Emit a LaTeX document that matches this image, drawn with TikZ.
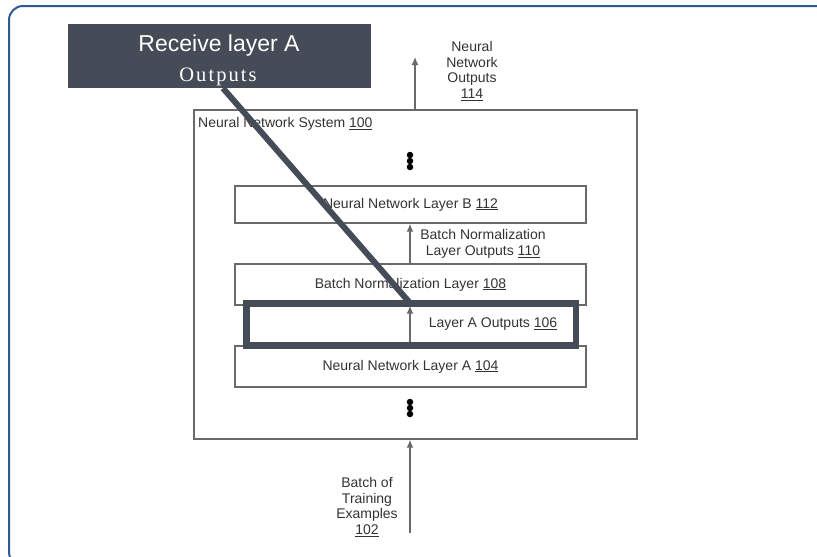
\documentclass[tikz,border=0pt]{standalone}
\usepackage{fontspec}
\setmainfont{Liberation Sans}
\newfontfamily\calloutserif[LetterSpace=10]{Liberation Serif}
\usetikzlibrary{arrows.meta}
\definecolor{frameblue}{HTML}{2F5A92}
\definecolor{callout}{HTML}{464C57}
\definecolor{diagline}{HTML}{6A6A6A}
\definecolor{diagtext}{HTML}{333333}
\tikzset{
  layerbox/.style={draw=diagline, line width=1.4pt, fill=white, minimum width=351pt, inner sep=0pt, font=\fontsize{14}{15.5}\selectfont, text=diagtext},
  lbl/.style={font=\fontsize{14}{15.8}\selectfont, text=diagtext, align=center, inner sep=0pt},
  flow/.style={draw=diagline, line width=1.3pt, -{Latex[length=8pt,width=7pt]}},
  dot/.style={circle, fill=black, inner sep=0pt, minimum size=6.5pt},
}
\begin{document}
\begin{tikzpicture}[x=1pt,y=-1pt]
\useasboundingbox (0,0) rectangle (817,557);
\begin{scope}
\clip (0,0) rectangle (817,557);
\draw[frameblue, line width=2pt, rounded corners=14pt] (9,6) rectangle (840,566);
\end{scope}
% system box
\node[draw=diagline, line width=1.4pt, minimum width=443pt, minimum height=329pt, inner sep=0pt] (sys) at (415.5,274.5) {};
\node[lbl, anchor=west] (syslbl) at (198,124) {Neural Network System \underline{100}};
% layers
\node[layerbox, minimum height=37pt] (lb) at (410.5,204.5) {Neural Network Layer B \underline{112}};
\node[layerbox, minimum height=41pt] (bn) at (410.5,284.5) {Batch Normalization Layer \underline{108}};
\node[layerbox, minimum height=41pt] (la) at (410.5,366.5) {Neural Network Layer A \underline{104}};
% dots
\node[dot] (d1) at (410,155) {};
\node[dot] (d2) at (410,161) {};
\node[dot] (d3) at (410,167) {};
\node[dot] (d4) at (410,402) {};
\node[dot] (d5) at (410,408) {};
\node[dot] (d6) at (410,414) {};
% arrows
\coordinate (outtip) at (415,57);
\coordinate (inbase) at (410,533);
\draw[flow] (sys.north -| outtip) -- (outtip);
\draw[flow] (inbase) -- (sys.south -| inbase);
\draw[flow] (bn.north -| d1) -- (lb.south -| d1);
\draw[flow] (la.north -| d1) -- (bn.south -| d1);
% labels
\node[lbl] (outlbl) at (472,71) {Neural\\Network\\Outputs\\\underline{114}};
\node[lbl] (bnlbl) at (483,244) {Batch Normalization\\Layer Outputs \underline{110}};
\node[lbl] (lalbl) at (493,324) {Layer A Outputs \underline{106}};
\node[lbl] (inlbl) at (367,507) {Batch of\\Training\\Examples\\\underline{102}};
% highlight
\node[draw=callout, line width=6.5pt, minimum width=329.5pt, minimum height=42pt, inner sep=0pt] (hl) at (411.25,324.5) {};
% callout
\node[fill=callout, minimum width=303pt, minimum height=64pt, inner sep=0pt] (cb) at (219.5,56) {};
\node[text=white, font=\fontsize{23}{27}\selectfont, anchor=base, inner sep=0pt] (ct1) at (219,51) {Receive layer A};
\node[text=white, font=\calloutserif\fontsize{20.5}{24}\selectfont, anchor=base, inner sep=0pt] (ct2) at (218,81) {Outputs};
\coordinate (leadend) at (410,303);
\draw[callout, line width=6pt] (cb.south -| 223,0) -- (leadend);
\end{tikzpicture}
\end{document}
